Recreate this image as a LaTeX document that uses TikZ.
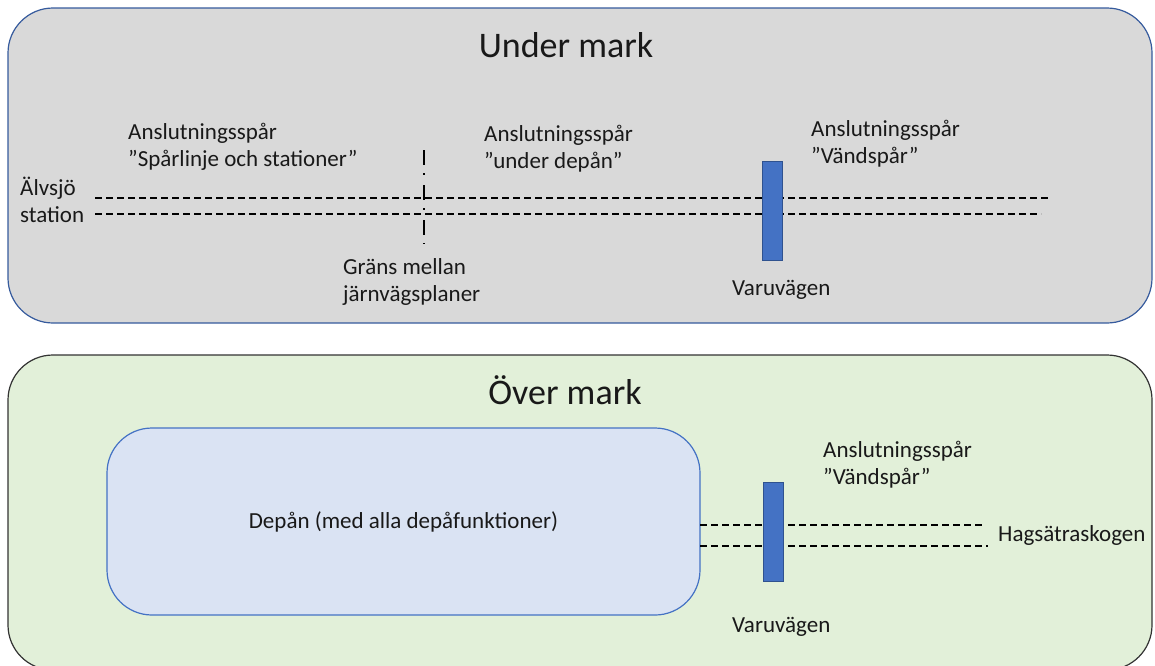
\documentclass[tikz,border=0pt]{standalone}
\usepackage{fontspec}
\setmainfont{Carlito}
\definecolor{markgray}{HTML}{D9D9D9}
\definecolor{markgreen}{HTML}{E2F0D9}
\definecolor{depablue}{HTML}{DAE3F3}
\definecolor{barblue}{HTML}{4472C4}
\definecolor{barline}{HTML}{2F528F}
\tikzset{
  levelbox/.style={rectangle,rounded corners=45pt,line width=1.2pt,inner sep=0pt,font=\fontsize{23}{27}\selectfont},
  barbox/.style={rectangle,fill=barblue,draw=barline,line width=0.6pt,minimum width=20pt,minimum height=99pt,inner sep=0pt},
  label/.style={anchor=west,align=left,inner sep=0pt,font=\fontsize{23}{27}\selectfont},
  title/.style={inner sep=0pt,font=\fontsize{36}{40}\selectfont},
  track/.style={dashed,dash pattern=on 7pt off 4pt,line width=1.4pt}
}
\begin{document}
\begin{tikzpicture}
        [x=1pt,y=-1pt,every node/.style={text=black!90}]
        \useasboundingbox (0,0) rectangle (1155,665);
        % boxes
        \node[levelbox,fill=markgray,draw=barblue!80!black,minimum width=1144pt,minimum height=315pt]
              (Under) at (580,165.5)   {};
        \node[levelbox,fill=markgreen,draw=black!80,minimum width=1144pt,minimum height=315pt]
              (Over)  at (580,512.5)   {};
        \node[levelbox,fill=depablue,draw=barblue,minimum width=593pt,minimum height=187pt]
              (Depa)  at (403.5,521.5) {Depån (med alla depåfunktioner)};

        % titles
        \node[title] (UnderTitle) at (566,45)  {Under mark};
        \node[title] (OverTitle)  at (565,390) {Över mark};

        % under mark
        \node[label] (Alvsjo)   at (20,200)  {Älvsjö\\station};
        \node[label] (SparA)    at (128,147) {Anslutningsspår\\”Spårlinje och stationer”};
        \node[label] (DepaA)    at (484,149) {Anslutningsspår\\”under depån”};
        \node[label] (VandA)    at (811,144) {Anslutningsspår\\”Vändspår”};
        \node[label] (Grans)    at (343,282) {Gräns mellan\\järnvägsplaner};
        \node[label] (VaruA)    at (732,290) {Varuvägen};

        \coordinate (T1) at (95,198);
        \coordinate (T2) at (1048,198);
        \coordinate (T3) at (95,214);
        \coordinate (T4) at (1041,214);
        \coordinate (G1) at (424,150);
        \coordinate (G2) at (424,244);

        % over mark
        \node[label] (VandB)    at (823,465) {Anslutningsspår\\”Vändspår”};
        \node[label] (Hagsatra) at (998,535) {Hagsätraskogen};
        \node[label] (VaruB)    at (732,627) {Varuvägen};

        \coordinate (D1) at (700,525);
        \coordinate (D2) at (985,525);
        \coordinate (D3) at (700,546);
        \coordinate (D4) at (988,546);

        % tracks
        \draw[track]
        (T1)        edge        (T2)
        (T3)        edge        (T4)
        (D1)        edge        (D2)
        (D3)        edge        (D4);

        \draw[line width=2pt,dash pattern=on 15pt off 8pt on 2pt off 10pt]
        (G1)        --          (G2);

        % Varuvägen bars
        \node[barbox] (BarA)    at (772.5,210.5) {};
        \node[barbox] (BarB)    at (773,532)     {};
    \end{tikzpicture}
\end{document}
